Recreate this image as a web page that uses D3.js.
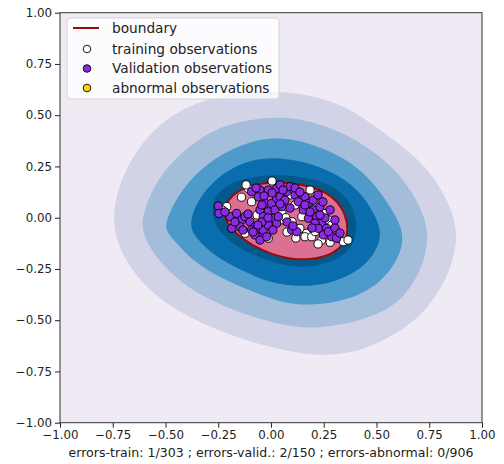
<!DOCTYPE html>
<html><head><meta charset="utf-8">
<script src="https://cdn.jsdelivr.net/npm/d3@7"></script>
<style>body{margin:0;background:#fff}svg{display:block}text{font-family:"DejaVu Sans",sans-serif}</style>
</head><body><svg id="c" width="504" height="464"></svg>
<script>
const xTicks = [-1, -0.75, -0.5, -0.25, 0, 0.25, 0.5, 0.75, 1];
const yTicks = [-1, -0.75, -0.5, -0.25, 0, 0.25, 0.5, 0.75, 1];
const xLabel = "errors-train: 1/303 ; errors-valid.: 2/150 ; errors-abnormal: 0/906";
const legendLabels = ["boundary", "training observations", "Validation observations", "abnormal observations"];

// contour level outlines (outer -> inner)
const level1 = [[-0.749,-0.036],[-0.739,0.086],[-0.701,0.208],[-0.635,0.330],[-0.550,0.438],[-0.431,0.525],[-0.289,0.584],[-0.123,0.613],[0.043,0.618],[0.209,0.594],[0.365,0.540],[0.517,0.428],[0.659,0.321],[0.754,0.223],[0.829,0.101],[0.872,-0.011],[0.882,-0.109],[0.858,-0.231],[0.791,-0.377],[0.682,-0.509],[0.540,-0.597],[0.408,-0.655],[0.246,-0.675],[0.090,-0.655],[-0.100,-0.606],[-0.256,-0.548],[-0.417,-0.470],[-0.540,-0.387],[-0.645,-0.280],[-0.716,-0.158]];
const level2 = [[-0.622,-0.036],[-0.580,0.101],[-0.498,0.250],[-0.336,0.395],[-0.180,0.468],[0.043,0.497],[0.199,0.468],[0.362,0.408],[0.520,0.300],[0.630,0.187],[0.710,0.052],[0.745,-0.060],[0.737,-0.157],[0.710,-0.258],[0.630,-0.392],[0.517,-0.470],[0.360,-0.520],[0.199,-0.540],[0.090,-0.530],[-0.052,-0.495],[-0.194,-0.445],[-0.362,-0.366],[-0.493,-0.258],[-0.580,-0.143]];
const level3 = [[-0.508,-0.060],[-0.484,0.025],[-0.402,0.172],[-0.258,0.301],[-0.100,0.375],[0.043,0.395],[0.199,0.360],[0.362,0.286],[0.473,0.187],[0.555,0.072],[0.616,-0.036],[0.627,-0.109],[0.607,-0.195],[0.520,-0.323],[0.360,-0.406],[0.199,-0.427],[0.066,-0.421],[-0.085,-0.362],[-0.244,-0.293],[-0.374,-0.209],[-0.450,-0.119]];
const level4 = [[-0.389,-0.036],[-0.356,0.074],[-0.258,0.203],[-0.100,0.286],[0.043,0.296],[0.199,0.262],[0.330,0.203],[0.426,0.122],[0.488,0.023],[0.522,-0.060],[0.512,-0.146],[0.426,-0.259],[0.280,-0.323],[0.137,-0.338],[-0.005,-0.319],[-0.125,-0.264],[-0.260,-0.195],[-0.356,-0.100]];
const level5 = [[-0.283,0.047],[-0.264,0.108],[-0.206,0.163],[-0.123,0.192],[-0.028,0.207],[0.066,0.207],[0.161,0.198],[0.258,0.172],[0.339,0.122],[0.388,0.052],[0.407,-0.021],[0.402,-0.100],[0.363,-0.170],[0.291,-0.214],[0.194,-0.240],[0.100,-0.240],[-0.005,-0.215],[-0.111,-0.170],[-0.207,-0.111],[-0.268,-0.036]];
const boundary = [[-0.225,0.028],[-0.206,0.087],[-0.157,0.132],[-0.090,0.158],[-0.014,0.172],[0.052,0.172],[0.137,0.163],[0.225,0.142],[0.292,0.102],[0.339,0.047],[0.363,-0.021],[0.363,-0.091],[0.330,-0.150],[0.262,-0.190],[0.185,-0.204],[0.100,-0.204],[0.005,-0.180],[-0.091,-0.135],[-0.168,-0.076],[-0.211,-0.021]];

const trainingPts = [[-0.092,0.078],[-0.108,0.143],[-0.013,-0.100],[-0.123,-0.076],[-0.210,0.054],[0.051,0.021],[0.058,-0.011],[0.146,0.005],[0.137,-0.052],[0.169,-0.076],[0.161,-0.093],[0.193,-0.093],[0.209,-0.068],[0.240,-0.109],[0.319,-0.100],[0.343,-0.117],[0.114,0.062],[0.256,0.021],[0.272,-0.011],[0.288,-0.036],[0.005,0.179],[-0.232,0.038],[-0.171,-0.045],[0.076,-0.070],[0.213,-0.036],[-0.066,0.013],[0.090,0.111],[0.185,0.135],[0.365,-0.109],[-0.118,0.160],[0.223,-0.128],[0.118,-0.099],[0.070,0.000],[0.100,-0.020],[-0.140,0.100],[0.280,-0.120]];
const validationPts = [[-0.250,0.057],[-0.247,0.021],[-0.194,0.005],[-0.163,0.021],[-0.139,-0.011],[-0.123,0.005],[-0.147,-0.044],[-0.100,-0.020],[-0.076,-0.044],[-0.092,-0.060],[-0.060,-0.068],[-0.044,-0.093],[-0.037,-0.060],[-0.076,-0.084],[-0.186,-0.052],[-0.092,0.127],[-0.052,0.135],[-0.013,0.135],[0.027,0.143],[-0.060,0.102],[-0.028,0.070],[0.003,0.070],[0.027,0.095],[-0.052,0.038],[-0.013,0.029],[0.019,0.038],[-0.037,0.005],[0.003,-0.003],[0.027,-0.027],[-0.013,-0.036],[0.074,0.127],[0.043,0.102],[0.114,0.111],[0.161,0.102],[0.129,0.078],[0.177,0.070],[0.200,0.086],[0.153,0.038],[0.200,0.038],[0.217,0.005],[0.177,-0.003],[0.240,-0.027],[0.209,-0.027],[0.264,-0.052],[0.224,-0.052],[0.248,-0.084],[0.288,-0.093],[0.272,-0.068],[0.098,-0.060],[0.122,-0.068],[0.051,0.054],[0.035,0.005],[0.311,-0.100],[-0.052,-0.109],[-0.020,-0.093],[0.043,0.160],[0.090,0.151],[0.066,0.086],[0.090,0.047],[0.232,0.052],[0.256,-0.001],[0.303,-0.050],[0.327,-0.075],[0.076,-0.021],[0.104,-0.040],[-0.218,0.028],[-0.171,-0.021],[-0.133,-0.060],[-0.109,0.018],[-0.085,-0.070],[-0.043,-0.021],[-0.071,0.145],[-0.033,0.106],[0.005,0.121],[0.057,0.135],[-0.043,0.062],[0.043,0.067],[-0.014,-0.001],[-0.062,-0.036],[0.009,-0.060],[0.114,0.145],[0.137,0.125],[0.223,0.111],[0.246,0.077],[0.185,0.028],[0.161,0.062],[0.232,0.013],[0.280,0.038],[0.303,-0.011],[0.194,-0.050]];
const abnormalPts = [];

const m = {l: 60, r: 482, t: 12.7, b: 422.7};
const x = d3.scaleLinear().domain([-1, 1]).range([m.l, m.r]);
const y = d3.scaleLinear().domain([-1, 1]).range([m.b, m.t]);
const svg = d3.select("#c");

svg.append("defs").append("clipPath").attr("id","clip").append("rect")
  .attr("x", m.l).attr("y", m.t).attr("width", m.r - m.l).attr("height", m.b - m.t);

const g = svg.append("g").attr("clip-path","url(#clip)");
g.append("rect").attr("x", m.l).attr("y", m.t).attr("width", m.r - m.l).attr("height", m.b - m.t).attr("fill", "#f0eaf4");

const line = d3.line().x(d => x(d[0])).y(d => y(d[1])).curve(d3.curveBasisClosed);
const levels = [level1, level2, level3, level4, level5];
const levelColors = ["#d2d3e7", "#a3bddb", "#4e9aca", "#0a6eae", "#04598c"];
levels.forEach((lv, i) => g.append("path").attr("d", line(lv)).attr("fill", levelColors[i]));
g.append("path").attr("d", line(boundary)).attr("fill", "#db7093");
g.append("path").attr("d", line(boundary)).attr("fill", "none").attr("stroke", "#9a0a0a").attr("stroke-width", 2);

const R = 4.1;
g.selectAll("circle.tr").data(trainingPts).join("circle").attr("class","tr")
  .attr("cx", d => x(d[0])).attr("cy", d => y(d[1])).attr("r", R)
  .attr("fill", "#ffffff").attr("stroke", "#000").attr("stroke-width", 0.9);
g.selectAll("circle.va").data(validationPts).join("circle").attr("class","va")
  .attr("cx", d => x(d[0])).attr("cy", d => y(d[1])).attr("r", R)
  .attr("fill", "#8a2be2").attr("stroke", "#000").attr("stroke-width", 0.9);
g.selectAll("circle.ab").data(abnormalPts).join("circle").attr("class","ab")
  .attr("cx", d => x(d[0])).attr("cy", d => y(d[1])).attr("r", R)
  .attr("fill", "#ffd700").attr("stroke", "#000").attr("stroke-width", 0.9);

// axes
const fmt = d3.format(".2f");
const xa = svg.append("g").attr("transform", `translate(0,${m.b})`)
  .call(d3.axisBottom(x).tickValues(xTicks).tickFormat(fmt).tickSize(5).tickPadding(3));
const ya = svg.append("g").attr("transform", `translate(${m.l},0)`)
  .call(d3.axisLeft(y).tickValues(yTicks).tickFormat(fmt).tickSize(5).tickPadding(3));
[xa, ya].forEach(a => {
  a.select(".domain").remove();
  a.selectAll("line").attr("stroke", "#222");
  a.selectAll("text").attr("font-size", 11.8).attr("fill", "#222").attr("font-family", "DejaVu Sans");
});
svg.append("rect").attr("x", m.l).attr("y", m.t).attr("width", m.r - m.l).attr("height", m.b - m.t)
  .attr("fill", "none").attr("stroke", "#333").attr("stroke-width", 1);

svg.append("text").attr("x", (m.l + m.r) / 2).attr("y", 457).attr("text-anchor", "middle")
  .attr("font-size", 12.5).attr("fill", "#222")
  .attr("textLength", 405).attr("lengthAdjust", "spacingAndGlyphs").text(xLabel);

// legend
const lg = svg.append("g");
lg.append("rect").attr("x", 67).attr("y", 18).attr("width", 212).attr("height", 81).attr("rx", 3)
  .attr("fill", "#ffffff").attr("fill-opacity", 0.8).attr("stroke", "#d5d5d5");
const rowY = [28, 49, 68.5, 88];
lg.append("line").attr("x1", 73).attr("x2", 99).attr("y1", rowY[0]).attr("y2", rowY[0])
  .attr("stroke", "#9a0a0a").attr("stroke-width", 2);
const mk = [null, "#ffffff", "#8a2be2", "#ffd700"];
for (let i = 1; i < 4; i++) {
  lg.append("circle").attr("cx", 87).attr("cy", rowY[i]).attr("r", 3.8)
    .attr("fill", mk[i]).attr("stroke", "#000").attr("stroke-width", 0.9);
}
legendLabels.forEach((t, i) => lg.append("text").attr("x", 112).attr("y", rowY[i]).attr("dy", "0.35em")
  .attr("font-size", 13.7).attr("fill", "#222").text(t));
</script></body></html>
